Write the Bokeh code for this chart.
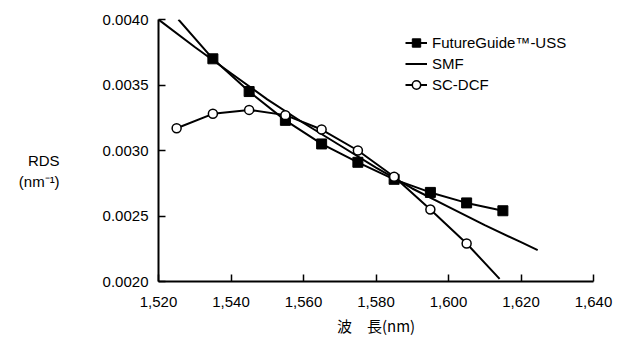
from bokeh.plotting import figure
from bokeh.models import Range1d, NumeralTickFormatter, Legend, LegendItem, FixedTicker
from bokeh.embed import file_html
from bokeh.resources import INLINE

# ---- data ----
fg_wl = [1535, 1545, 1555, 1565, 1575, 1585, 1595, 1605, 1615]
fg_rds = [0.00370, 0.00345, 0.00323, 0.00305, 0.00291, 0.00278, 0.00268, 0.00260, 0.00254]
fg_curve_wl = [1525.5] + fg_wl
fg_curve_rds = [0.00400] + fg_rds

smf_wl = [1520, 1530, 1540, 1550, 1560, 1570, 1580, 1590, 1600, 1610, 1620, 1624.6]
smf_rds = [0.00400, 0.00379, 0.00359, 0.00339, 0.00321, 0.00304, 0.00287, 0.00271,
           0.00257, 0.00243, 0.00230, 0.00224]

dcf_wl = [1525, 1535, 1545, 1555, 1565, 1575, 1585, 1595, 1605]
dcf_rds = [0.00317, 0.00328, 0.00331, 0.00327, 0.00316, 0.00300, 0.00280, 0.00255, 0.00229]
dcf_curve_wl = dcf_wl + [1614.1]
dcf_curve_rds = dcf_rds + [0.00202]

x_ticks = [1520, 1540, 1560, 1580, 1600, 1620, 1640]
y_ticks = [0.0020, 0.0025, 0.0030, 0.0035, 0.0040]
labels = ["FutureGuide™-USS", "SMF", "SC-DCF"]

FONT = "Liberation Sans"

p = figure(width=626, height=339, output_backend="svg", toolbar_location=None,
           x_range=Range1d(1520, 1640), y_range=Range1d(0.0020, 0.0040),
           min_border_left=158, min_border_right=33, min_border_top=19, min_border_bottom=58,
           background_fill_color="white", border_fill_color="white")
p.outline_line_color = None
p.grid.visible = False

for ax in (p.xaxis[0], p.yaxis[0]):
    ax.axis_line_width = 2
    ax.axis_line_color = "black"
    ax.major_tick_in = 7
    ax.major_tick_out = 0
    ax.major_tick_line_width = 1.5
    ax.major_tick_line_color = "black"
    ax.minor_tick_line_color = None
    ax.major_label_text_font = FONT
    ax.major_label_text_font_size = "15px"
    ax.major_label_text_color = "black"
    ax.axis_label_text_color = "black"
    ax.axis_label_text_font_style = "normal"
    ax.axis_label_text_font_size = "15px"

p.xaxis.ticker = FixedTicker(ticks=x_ticks)
p.yaxis.ticker = FixedTicker(ticks=y_ticks)
p.xaxis.formatter = NumeralTickFormatter(format="0,0")
p.yaxis.formatter = NumeralTickFormatter(format="0.0000")
p.xaxis.major_label_standoff = 15
p.yaxis.major_label_standoff = 10

xa = p.xaxis[0]
xa.axis_label = "波　長(nm)"
xa.axis_label_text_font = "Noto Sans CJK JP"
xa.axis_label_standoff = 5

ya = p.yaxis[0]
ya.axis_label = "\n\nRDS\n(nm⁻¹)"
ya.axis_label_text_font = FONT
ya.axis_label_standoff = 40
if "axis_label_orientation" in ya.properties():
    ya.axis_label_orientation = "horizontal"

# lines
fg_line = p.line(fg_curve_wl, fg_curve_rds, line_color="black", line_width=2)
fg_mark = p.scatter(fg_wl, fg_rds, marker="square", size=10, fill_color="black", line_color="black")
smf_line = p.line(smf_wl, smf_rds, line_color="black", line_width=2)
dcf_line = p.line(dcf_curve_wl, dcf_curve_rds, line_color="black", line_width=2)
dcf_mark = p.scatter(dcf_wl, dcf_rds, marker="circle", size=9, fill_color="white",
                     line_color="black", line_width=1.5)

legend = Legend(items=[
    LegendItem(label=labels[0], renderers=[fg_line, fg_mark]),
    LegendItem(label=labels[1], renderers=[smf_line]),
    LegendItem(label=labels[2], renderers=[dcf_line, dcf_mark]),
], location=(247, 186))
legend.padding = 0
legend.margin = 0
legend.spacing = 0
legend.label_height = 21
legend.glyph_height = 21
legend.glyph_width = 22
legend.label_standoff = 5
legend.border_line_alpha = 0
legend.background_fill_alpha = 0
legend.label_text_font = FONT
legend.label_text_font_size = "15px"
legend.label_text_color = "black"
p.add_layout(legend)

open("out.html", "w").write(file_html(p, INLINE))
